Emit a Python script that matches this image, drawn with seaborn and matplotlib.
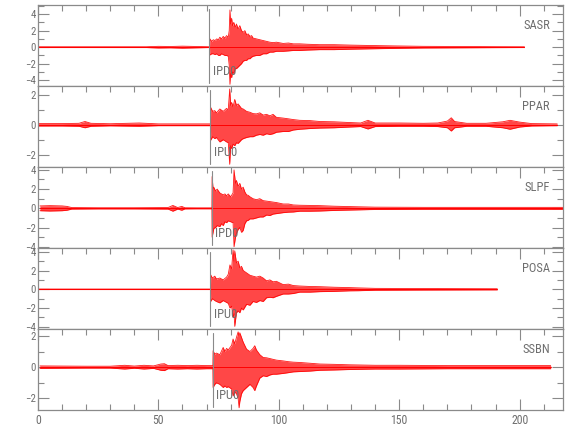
import matplotlib
matplotlib.use("Agg")
import matplotlib.pyplot as plt
import matplotlib.transforms as mtransforms
from matplotlib import font_manager
from matplotlib.ticker import MultipleLocator
import seaborn as sns
import numpy as np

# ---------------- data ----------------
stations = ["SASR", "PPAR", "SLPF", "POSA", "SSBN"]
pick_labels = ["IPD0", "IPU0", "IPD0", "IPU0", "IPU0"]
pick_times = [71.2, 71.6, 72.3, 71.6, 72.7]
x_ticks = [0, 50, 100, 150, 200]
y_limits = [(-4.7, 5.1), (-2.83, 2.6), (-4.13, 4.3), (-4.23, 4.4), (-2.74, 2.44)]

# SASR envelope (time s, upper, lower)
sasr_t = [0, 20, 45, 50, 55, 60, 66, 71.2, 71.4, 72.1, 72.8, 73.5, 74.2, 74.9, 75.5, 76.2,
          76.9, 77.6, 78.3, 79.0, 79.4, 79.7, 80.0, 80.4, 80.8, 81.3, 81.9, 82.4, 83.1, 83.8,
          84.5, 85.2, 85.9, 86.6, 87.3, 88.0, 88.7, 89.3, 90.7, 92.1, 93.5, 94.9, 96.3, 97.6,
          99.0, 101.8, 104, 106, 108.7, 112, 117, 123, 129.5, 138, 148, 160, 175, 190, 202]
sasr_up = [0.05, 0.05, 0.05, 0.1, 0.08, 0.12, 0.08, 0.05, 1.0, 0.7, 0.9, 0.8, 1.0, 0.9, 1.2, 1.0,
           1.3, 1.1, 1.4, 1.2, 2.0, 4.5, 2.8, 3.5, 2.6, 3.0, 2.4, 2.8, 2.2, 2.6,
           2.0, 1.8, 2.0, 1.5, 1.6, 1.3, 1.4, 1.1, 1.0, 0.9, 0.8, 0.7, 0.6, 0.55,
           0.6, 0.45, 0.5, 0.4, 0.4, 0.35, 0.3, 0.3, 0.25, 0.2, 0.15, 0.1, 0.08, 0.06, 0.05]
sasr_lo = [-0.05, -0.05, -0.05, -0.1, -0.08, -0.12, -0.08, -0.05, -0.95, -0.8, -0.8, -0.9, -0.8, -1.0, -1.0, -0.8,
           -0.9, -1.0, -1.0, -1.1, -2.2, -4.5, -3.2, -3.7, -3.0, -3.2, -2.6, -2.6, -2.4, -2.2,
           -2.0, -1.7, -1.6, -1.6, -1.4, -1.4, -1.2, -1.1, -1.0, -1.0, -0.8, -0.8, -0.6, -0.6,
           -0.5, -0.5, -0.45, -0.4, -0.4, -0.35, -0.3, -0.3, -0.25, -0.2, -0.15, -0.1, -0.08, -0.06, -0.05]

# PPAR envelope
ppar_t = [0, 10, 17, 19.5, 22, 30, 42, 50, 60, 71.6, 71.7, 72.5, 73.4, 74.1, 75.5, 76.9, 78.3,
          79.0, 79.6, 80.0, 80.4, 81.0, 81.7, 82.4, 83.1, 84.5, 85.2, 86.6, 88.0, 89.3, 90.7,
          92.1, 93.5, 94.9, 96.3, 97.6, 99.0, 101.8, 104, 106, 108.7, 113, 117, 123, 129.5,
          134, 137, 140, 150, 160, 166, 170, 171.6, 173, 178, 186, 193, 196, 200, 205, 215.6]
ppar_up = [0.08, 0.08, 0.1, 0.22, 0.1, 0.07, 0.12, 0.06, 0.06, 0.06, 1.17, 0.9, 0.95, 0.8, 1.06, 0.9, 1.1,
           1.0, 2.4, 1.3, 1.5, 1.2, 1.7, 1.3, 1.4, 1.1, 1.06, 0.9, 0.84, 0.75, 0.73,
           0.8, 0.65, 0.7, 0.6, 0.7, 0.5, 0.45, 0.4, 0.35, 0.3, 0.28, 0.22, 0.2, 0.15,
           0.12, 0.3, 0.12, 0.12, 0.1, 0.12, 0.25, 0.47, 0.22, 0.1, 0.1, 0.2, 0.3, 0.18, 0.08, 0.06]
ppar_lo = [-0.08, -0.08, -0.1, -0.2, -0.1, -0.07, -0.1, -0.06, -0.06, -0.06, -1.04, -0.8, -0.93, -0.85, -1.15, -1.0, -1.15,
           -1.2, -2.65, -1.4, -1.6, -1.3, -1.4, -1.2, -1.25, -1.0, -0.93, -0.85, -0.8, -0.8, -0.7,
           -0.65, -0.7, -0.6, -0.65, -0.6, -0.5, -0.45, -0.45, -0.35, -0.3, -0.25, -0.22, -0.2, -0.15,
           -0.12, -0.28, -0.12, -0.1, -0.1, -0.12, -0.2, -0.42, -0.2, -0.1, -0.1, -0.2, -0.3, -0.15, -0.08, -0.06]

# SLPF envelope
slpf_t = [0.8, 5, 10, 12, 14, 25, 40, 54, 56, 58, 59.7, 61, 66, 72.2, 72.3, 72.7, 73.0, 73.7, 74.4,
          75.5, 76.2, 76.9, 77.6, 78.3, 79.0, 80.0, 81.0, 81.4, 82.0, 82.4, 83.1, 83.8, 84.5,
          85.2, 85.9, 86.6, 87.3, 88.0, 89.3, 90.7, 92.1, 93.5, 94.9, 96.3, 97.6, 99.0, 101.8,
          104, 106, 108.7, 113, 117, 123, 129.5, 140, 160, 180, 200, 218]
slpf_up = [0.25, 0.28, 0.25, 0.2, 0.08, 0.06, 0.06, 0.08, 0.3, 0.08, 0.2, 0.06, 0.05, 0.05, 3.3, 2.0, 2.2, 1.8, 2.0,
           1.6, 1.5, 1.4, 1.5, 1.3, 1.5, 1.2, 1.6, 4.0, 2.6, 2.9, 2.3, 2.6, 2.0,
           2.2, 1.7, 1.4, 1.35, 1.2, 1.0, 0.9, 1.0, 0.8, 0.75, 0.7, 0.65, 0.6, 0.45,
           0.45, 0.35, 0.32, 0.3, 0.28, 0.22, 0.18, 0.12, 0.1, 0.1, 0.1, 0.1]
slpf_lo = [-0.25, -0.28, -0.25, -0.2, -0.08, -0.06, -0.06, -0.08, -0.3, -0.08, -0.2, -0.06, -0.05, -0.05, -3.0, -2.5, -2.1, -2.0, -1.8,
           -1.9, -1.6, -1.8, -1.4, -1.5, -1.3, -1.4, -1.5, -4.0, -3.0, -2.6, -2.2, -2.0, -2.5,
           -2.3, -1.6, -1.3, -1.25, -1.1, -1.1, -1.0, -0.9, -0.9, -0.7, -0.75, -0.6, -0.55, -0.45,
           -0.4, -0.38, -0.3, -0.3, -0.28, -0.22, -0.18, -0.12, -0.1, -0.1, -0.1, -0.1]

# POSA envelope
posa_t = [0, 71.6, 71.7, 72.4, 73.4, 74.1, 75.5, 76.9, 78.3, 79.0, 79.7, 80.4, 81.0, 81.4, 81.7,
          82.4, 83.1, 83.8, 84.5, 85.2, 86.6, 88.0, 89.3, 90.7, 92.1, 93.5, 94.9, 96.3, 97.6,
          99.0, 101.8, 104, 106, 108.7, 113, 117, 123, 129.5, 133, 140, 160, 190.7]
posa_up = [0.03, 0.03, 1.55, 1.2, 1.4, 1.1, 1.2, 1.0, 1.3, 1.6, 2.6, 2.2, 4.2, 3.0, 4.1,
           2.8, 3.0, 2.3, 2.45, 2.0, 1.75, 1.5, 1.4, 1.3, 1.4, 1.2, 0.9, 1.0, 0.8,
           0.85, 0.5, 0.55, 0.4, 0.35, 0.3, 0.28, 0.22, 0.18, 0.15, 0.1, 0.08, 0.06]
posa_lo = [-0.03, -0.03, -1.3, -1.0, -1.2, -1.3, -1.45, -1.2, -1.4, -1.5, -2.0, -1.8, -3.0, -2.6, -3.95,
           -2.5, -2.3, -2.5, -2.0, -2.2, -1.6, -1.7, -1.3, -1.4, -1.2, -1.3, -0.9, -0.85, -0.9,
           -0.75, -0.5, -0.5, -0.45, -0.3, -0.3, -0.25, -0.22, -0.16, -0.15, -0.1, -0.08, -0.06]

# SSBN envelope
ssbn_t = [0.8, 10, 20, 30, 36, 40, 44, 48, 51, 52.5, 54, 58, 62, 66, 70, 72.6, 72.7, 73.4, 74.1,
          75.5, 76.9, 77.6, 78.3, 79.0, 80.4, 81.0, 81.7, 82.4, 83.1, 83.5, 83.8, 84.5, 85.2,
          86.6, 88.0, 89.3, 90.0, 90.7, 92.1, 93.5, 94.9, 96.3, 97.6, 99.0, 101.8, 104, 106,
          108.7, 113, 117, 123, 129.5, 140, 150, 170, 190, 212.9]
ssbn_up = [0.08, 0.07, 0.06, 0.06, 0.12, 0.07, 0.12, 0.08, 0.2, 0.22, 0.1, 0.12, 0.1, 0.12, 0.1, 0.1, 1.05, 0.83, 0.9,
           0.8, 1.26, 1.0, 1.2, 1.1, 1.4, 1.8, 1.5, 1.9, 2.26, 2.0, 2.2, 1.9, 1.6,
           1.15, 1.0, 1.2, 1.37, 1.1, 0.8, 0.62, 0.6, 0.55, 0.5, 0.45, 0.4, 0.35, 0.32,
           0.3, 0.25, 0.2, 0.18, 0.15, 0.12, 0.12, 0.1, 0.1, 0.1]
ssbn_lo = [-0.08, -0.07, -0.06, -0.06, -0.12, -0.07, -0.12, -0.08, -0.2, -0.22, -0.1, -0.12, -0.1, -0.12, -0.1, -0.1, -1.3, -1.1, -1.0,
           -1.1, -1.3, -1.2, -1.3, -1.25, -1.4, -1.84, -1.6, -1.7, -2.0, -2.6, -2.2, -1.7, -1.5,
           -1.3, -1.1, -1.3, -1.5, -1.2, -0.7, -0.55, -0.6, -0.5, -0.45, -0.45, -0.4, -0.35, -0.3,
           -0.28, -0.25, -0.2, -0.18, -0.15, -0.12, -0.12, -0.1, -0.1, -0.1]

traces = [(sasr_t, sasr_up, sasr_lo), (ppar_t, ppar_up, ppar_lo), (slpf_t, slpf_up, slpf_lo),
          (posa_t, posa_up, posa_lo), (ssbn_t, ssbn_up, ssbn_lo)]

# ---------------- style ----------------
sns.set_theme(style="white")
names = {f.name for f in font_manager.fontManager.ttflist}
narrow = next((f for f in ["Liberation Sans Narrow", "DejaVu Sans Condensed", "Roboto Condensed",
                           "Open Sans Condensed"] if f in names), "Liberation Sans")
plt.rcParams["font.family"] = [narrow, "DejaVu Sans"]

GRAY = "#8a8a8a"
TXT = "#6e6e6e"
RED = "#ff0000"

fig = plt.figure(figsize=(5.8, 4.4), dpi=100)
gs = fig.add_gridspec(5, 1, left=38 / 580, right=563 / 580, top=1 - 5 / 440, bottom=1 - 410 / 440, hspace=0)

for i in range(5):
    ax = fig.add_subplot(gs[i])
    t, up, lo = traces[i]
    ax.fill_between(t, lo, up, color=RED, alpha=0.72, linewidth=0)
    sns.lineplot(x=t, y=up, ax=ax, color=RED, lw=0.6, alpha=0.9, estimator=None)
    sns.lineplot(x=t, y=lo, ax=ax, color=RED, lw=0.6, alpha=0.9, estimator=None)
    sns.lineplot(x=[t[0], t[-1]], y=[0, 0], ax=ax, color=RED, lw=0.7, estimator=None)

    ax.set_xlim(0, 218)
    ax.set_ylim(*y_limits[i])
    for s in ax.spines.values():
        s.set_color(GRAY)
        s.set_linewidth(0.9)

    ax.xaxis.set_major_locator(MultipleLocator(50))
    ax.xaxis.set_minor_locator(MultipleLocator(10))
    ax.yaxis.set_major_locator(MultipleLocator(2))
    ax.yaxis.set_minor_locator(MultipleLocator(1))
    last = (i == 4)
    ax.tick_params(axis="x", which="both", direction="in", top=True, bottom=last,
                   labelbottom=last, color=GRAY, labelcolor=TXT, width=0.8, labelsize=8.5, pad=3)
    ax.tick_params(axis="x", which="major", length=8)
    ax.tick_params(axis="x", which="minor", length=4)
    ax.tick_params(axis="y", which="both", direction="in", left=True, right=True,
                   color=GRAY, labelcolor=TXT, width=0.8, labelsize=7.8, pad=1.5)
    ax.tick_params(axis="y", which="major", length=8)
    ax.tick_params(axis="y", which="minor", length=4.5)
    if last:
        ax.set_xticks(x_ticks)
        ax.set_xticklabels([str(v) for v in x_ticks])
    ax.set_xlabel("")
    ax.set_ylabel("")

    ax.axvline(pick_times[i], ymin=0.04, ymax=0.95, color=GRAY, lw=0.8, zorder=4)
    trans = mtransforms.blended_transform_factory(ax.transData, ax.transAxes)
    ax.text(pick_times[i] + 1.4, 0.18, pick_labels[i], transform=trans, ha="left", va="center",
            color=TXT, fontsize=9, zorder=6)
    ax.text(0.975, 0.745, stations[i], transform=ax.transAxes, ha="right", va="center",
            color=TXT, fontsize=9)

fig.savefig("out.png", dpi=100)
